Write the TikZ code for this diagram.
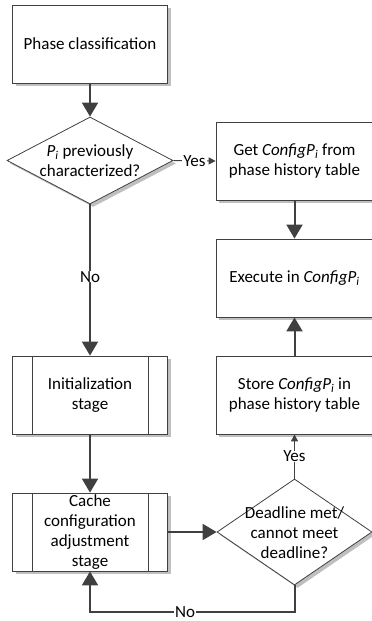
\documentclass[tikz,border=0pt]{standalone}
\usepackage{fontspec}
\setmainfont{Carlito}
\usetikzlibrary{shapes.geometric,shadows,arrows.meta}
\newcommand{\cfgp}{\textit{ConfigP\textsubscript{i}}}
\tikzset{
  shade box/.style={drop shadow={shadow xshift=3pt,shadow yshift=-3pt,fill=black!25,opacity=1}},
  stepnode/.style={draw=black!75, line width=0.8pt, fill=white, shade box,
    minimum width=155pt, minimum height=78pt, inner sep=0pt, align=center},
  decision/.style={draw=black!75, line width=0.8pt, fill=white, shade box,
    shape=diamond, inner sep=0pt},
  flow/.style={draw=black!75, line width=2pt, -{Triangle[length=14pt,width=16pt]}},
  thinflow/.style={draw=black!75, line width=1pt, -{Triangle[length=7pt,width=7pt]}},
  tag/.style={fill=white, inner xsep=1pt, inner ysep=0pt}
}
\begin{document}
\begin{tikzpicture}[x=1pt,y=-1pt,every node/.style={font=\fontsize{17}{20}\selectfont}]
\useasboundingbox (0,0) rectangle (372,621);
% left column
\node[stepnode] (cls) at (90,44) {Phase classification};
\node[decision, minimum width=166pt, minimum height=87pt] (d1) at (90,160.5) {};
\node[align=center] (d1txt) at (90,161) {\textit{P\textsubscript{i}} previously\\characterized?};
\node[stepnode] (init) at (90,395) {Initialization\\stage};
\node[stepnode] (cache) at (90,532) {Cache\\configuration\\adjustment\\stage};
\foreach \n in {init,cache} {
  \draw[black!75, line width=0.8pt] ([xshift=20pt]\n.north west) -- ([xshift=20pt]\n.south west);
  \draw[black!75, line width=0.8pt] ([xshift=-20pt]\n.north east) -- ([xshift=-20pt]\n.south east);
}
% right column
\node[stepnode, minimum width=157pt] (get) at (294.5,161) {Get \cfgp{} from\\phase history table};
\node[stepnode, minimum width=157pt] (exec) at (294.5,278) {Execute in \cfgp};
\node[stepnode, minimum width=157pt] (store) at (294.5,395) {Store \cfgp{} in\\phase history table};
\node[decision, minimum width=155pt, minimum height=106pt] (d2) at (294.5,532) {};
\node[align=center] (d2txt) at (294.5,533) {Deadline met/\\cannot meet\\deadline?};
\coordinate (turnr) at (294.5,612);
\coordinate (turnl) at (90,612);
% connectors
\draw[flow] (cls) -- (d1);
\draw[thinflow] (d1.east) -- node[tag] {Yes} (get.west);
\draw[flow] (d1.south) -- node[tag, pos=0.48] {No} (init.north);
\draw[flow] (get) -- (exec);
\draw[flow] (init) -- (cache);
\draw[flow] (cache.east) -- (d2.west);
\draw[flow] (store) -- (exec);
\draw[thinflow] (d2.north) -- node[tag, pos=0.5] {Yes} (store.south);
\draw[flow] (d2.south) -- (turnr) -- node[tag, pos=0.535] {No} (turnl) -- (cache.south);
\end{tikzpicture}
\end{document}
